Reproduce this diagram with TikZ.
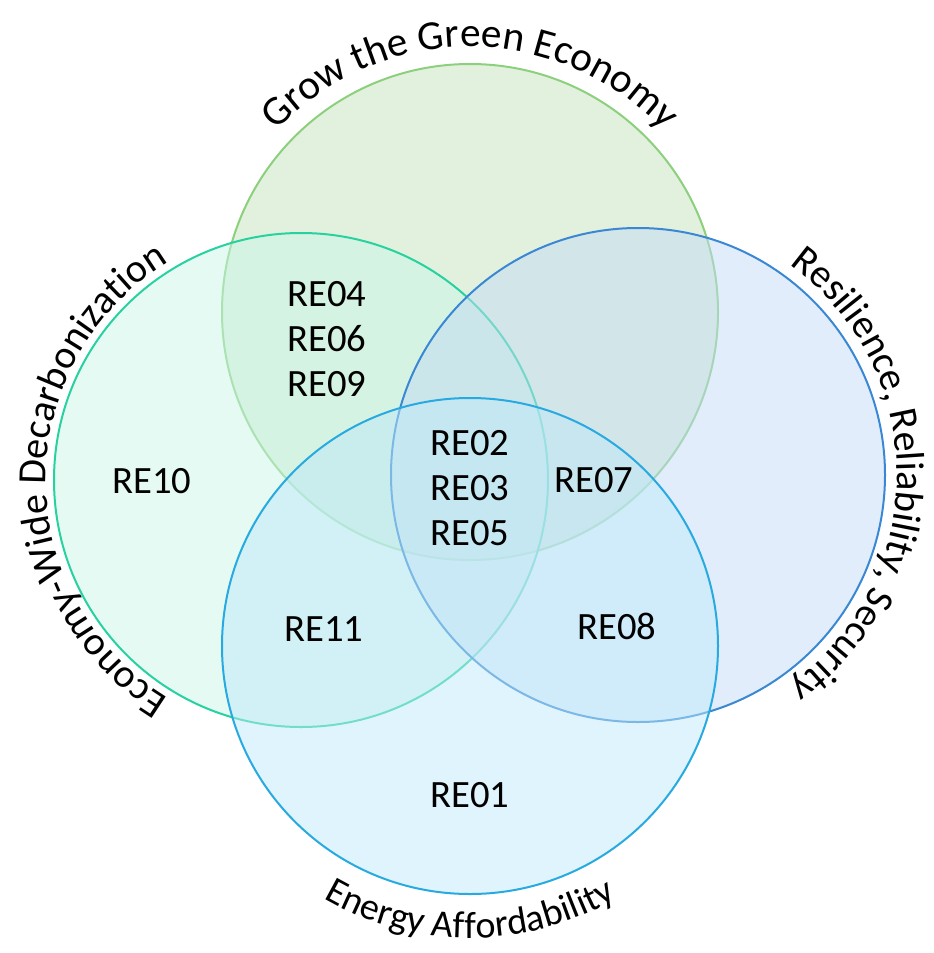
\documentclass[tikz,border=0pt]{standalone}
\usepackage{fontspec}
\setmainfont{Carlito}
\usetikzlibrary{decorations.text}

\definecolor{greenline}{RGB}{140,208,125}
\definecolor{greenfill}{RGB}{197,227,187}
\definecolor{tealline}{RGB}{40,210,160}
\definecolor{tealfill}{RGB}{201,245,231}
\definecolor{blueline}{RGB}{58,136,212}
\definecolor{bluefill}{RGB}{195,219,245}
\definecolor{skyline}{RGB}{40,170,225}
\definecolor{skyfill}{RGB}{191,233,249}

\newcommand{\arclabel}[1]{\fontsize{#1}{36}\selectfont}

\tikzset{every picture/.style={line width=0.75pt}}

\begin{document}
\begin{tikzpicture}[x=0.75pt,y=0.75pt,yscale=-1,xscale=1,
  ring/.style={line width=1.5pt, fill opacity=0.5},
  region/.style={font=\fontsize{29}{33.5}\selectfont, align=center, inner sep=0pt},
  bend text/.style 2 args={decorate, decoration={text along path, text align=center, text={|\arclabel{#1}|#2}}}]
\useasboundingbox (0,0) rectangle (934,953);

%Circle: Grow the Green Economy
\coordinate (cgreen) at (470,312);
\filldraw[ring, draw=greenline, fill=greenfill] (cgreen) circle (248);
%Circle: Economy-Wide Decarbonization
\coordinate (cteal) at (301,480);
\filldraw[ring, draw=tealline, fill=tealfill] (cteal) circle (247);
%Circle: Resilience, Reliability, Security
\coordinate (cblue) at (638,475);
\filldraw[ring, draw=blueline, fill=bluefill] (cblue) circle (247);
%Circle: Energy Affordability
\coordinate (csky) at (470,646);
\filldraw[ring, draw=skyline, fill=skyfill] (csky) circle (248);

% Curved titles
\path[bend text={31}{Grow the Green Economy}] (cgreen) ++(205:265) arc[start angle=205, end angle=335, radius=265];
\path[bend text={30}{Economy-Wide Decarbonization}] (cteal) ++(115:255) arc[start angle=115, end angle=245, radius=255];
\path[bend text={30}{Resilience, Reliability, Security}] (cblue) ++(-65:259) arc[start angle=-65, end angle=65, radius=259];
\path[bend text={28.5}{Energy Affordability}] (csky) ++(125:292) arc[start angle=125, end angle=55, radius=292];

% Region labels
\node[region] (re04) at (327,339) {RE04\\RE06\\RE09};
\node[region] (re10) at (152,481) {RE10};
\node[region] (re02) at (470,488) {RE02\\RE03\\RE05};
\node[region] (re07) at (594,480) {RE07};
\node[region] (re11) at (324,629) {RE11};
\node[region] (re08) at (617,626) {RE08};
\node[region] (re01) at (470,795) {RE01};

\end{tikzpicture}
\end{document}
